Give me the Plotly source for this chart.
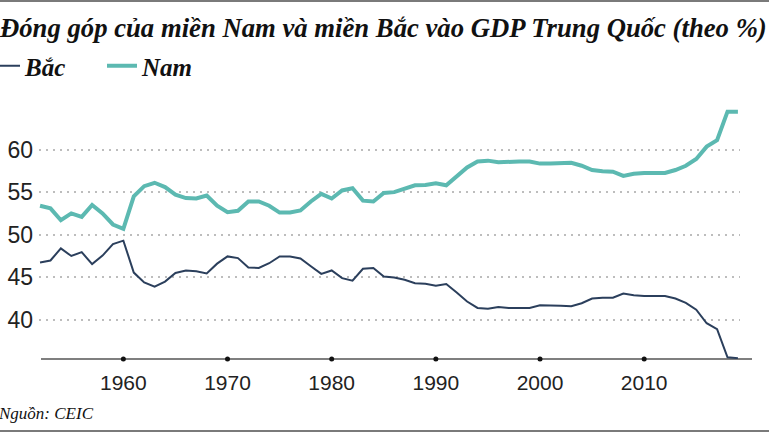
import plotly.graph_objects as go

years = list(range(1952, 2020))
nam = [53.4, 53.1, 51.7, 52.5, 52.1, 53.5, 52.5, 51.2, 50.7, 54.5,
       55.7, 56.1, 55.6, 54.7, 54.3, 54.25, 54.6, 53.4, 52.65, 52.8,
       53.9, 53.9, 53.4, 52.6, 52.6, 52.85, 53.9, 54.8, 54.25, 55.2,
       55.45, 54.0, 53.9, 54.9, 55.0, 55.35, 55.8, 55.85, 56.05, 55.8,
       56.8, 57.9, 58.6, 58.7, 58.5, 58.6, 58.6, 58.6, 58.35, 58.35,
       58.45, 58.45, 58.1, 57.6, 57.45, 57.4, 56.9, 57.15, 57.25, 57.25,
       57.25, 57.6, 58.1, 58.9, 60.35, 61.1, 64.45, 64.45]
bac = [46.74, 46.97, 48.4, 47.5, 47.95, 46.55, 47.55, 48.9, 49.3, 45.55,
       44.4, 43.9, 44.5, 45.5, 45.8, 45.7, 45.45, 46.6, 47.45, 47.25,
       46.15, 46.1, 46.65, 47.45, 47.45, 47.2, 46.3, 45.4, 45.8, 44.9,
       44.6, 46.0, 46.1, 45.1, 44.98, 44.7, 44.3, 44.25, 44.0, 44.2,
       43.2, 42.15, 41.4, 41.3, 41.5, 41.4, 41.4, 41.4, 41.7, 41.7,
       41.65, 41.6, 41.95, 42.5, 42.6, 42.6, 43.1, 42.9, 42.8, 42.8,
       42.8, 42.5, 42.0, 41.2, 39.6, 38.9, 35.6, 35.5]
x_ticks = [1960, 1970, 1980, 1990, 2000, 2010]
y_ticks = [40, 45, 50, 55, 60]
title = "Đóng góp của miền Nam và miền Bắc vào GDP Trung Quốc (theo %)"
source = "Nguồn: CEIC"

Y_MIN, Y_MAX = 35.4, 65
SERIF = "Liberation Serif"

fig = go.Figure()
fig.add_trace(go.Scatter(x=years, y=bac, name="Bắc", mode="lines",
                         line=dict(color="#2b3f5c", width=2)))
fig.add_trace(go.Scatter(x=years, y=nam, name="Nam", mode="lines",
                         line=dict(color="#5cb9b1", width=4)))
fig.add_trace(go.Scatter(x=x_ticks, y=[Y_MIN] * len(x_ticks), mode="markers",
                         marker=dict(color="#111111", size=5), showlegend=False,
                         cliponaxis=False, hoverinfo="skip"))

W, H = 769, 434
L, R, T, B = 39, 29, 107, 75
pw, ph = W - L - R, H - T - B

def px_to_paper_x(px):
    return (px - L) / pw

def px_to_paper_y(py):
    return (H - B - py) / ph

fig.update_layout(
    width=W, height=H,
    margin=dict(l=L, r=R, t=T, b=B, autoexpand=False),
    paper_bgcolor="white", plot_bgcolor="white",
    title=dict(text=f"<b><i>{title}</i></b>", x=0, xref="container", xanchor="left",
               y=1 - 28 / H, yref="container", yanchor="middle",
               font=dict(family=SERIF, size=26.7, color="#111111")),
    legend=dict(orientation="h", x=0, xref="container", xanchor="left",
                y=1 - 66 / H, yref="container", yanchor="middle", indentation=-15,
                font=dict(family=SERIF, size=25, color="#111111", style="italic", weight="bold"),
                itemwidth=30, entrywidth=87, entrywidthmode="pixels",
                bgcolor="rgba(0,0,0,0)"),
    xaxis=dict(range=[1951.9, 2019.2], tickvals=x_ticks, showgrid=False, zeroline=False,
               showline=False, ticks="", ticklabelstandoff=9,
               tickfont=dict(family="Liberation Sans", size=21, color="#222222")),
    yaxis=dict(range=[Y_MIN, Y_MAX], tickvals=y_ticks, showgrid=True,
               gridcolor="#bdbdbd", griddash="2px,5px", gridwidth=1.5,
               zeroline=False, showline=False, ticks="", ticklabelstandoff=5,
               tickfont=dict(family="Liberation Sans", size=23, color="#222222")),
    showlegend=True,
)

# x axis baseline extending slightly past the plot
fig.add_shape(type="line", xref="paper", yref="paper",
              x0=px_to_paper_x(41), x1=px_to_paper_x(752), y0=0, y1=0,
              line=dict(color="#555555", width=1.3), layer="below")
# image border lines
for py in (1, 431):
    fig.add_shape(type="line", xref="paper", yref="paper",
                  x0=px_to_paper_x(0), x1=px_to_paper_x(W), y0=px_to_paper_y(py), y1=px_to_paper_y(py),
                  line=dict(color="#7a7a7a", width=2))

fig.add_annotation(text=f"<i>{source}</i>", xref="paper", yref="paper",
                   x=px_to_paper_x(-4), y=px_to_paper_y(413), xanchor="left", yanchor="middle",
                   showarrow=False, font=dict(family=SERIF, size=17, color="#111111"))

fig.write_html("out.html", config={"displayModeBar": False},
               post_script="document.body.style.margin='0';")
